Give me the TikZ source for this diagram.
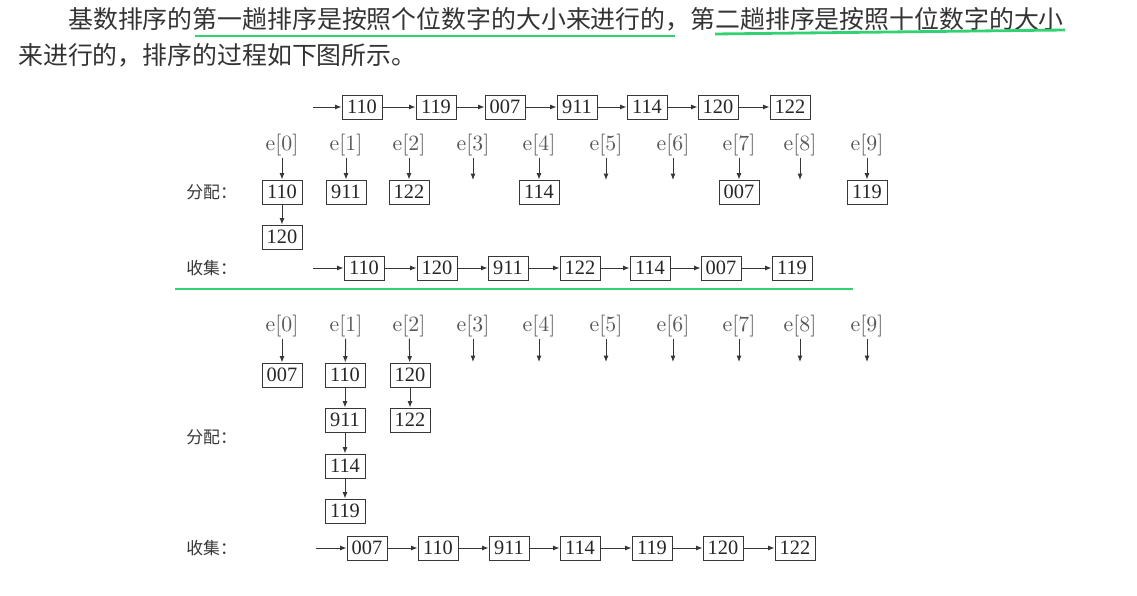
\documentclass[tikz,border=0pt]{standalone}
\usepackage{fontspec}
\newfontfamily\cjk{Noto Sans CJK SC}
\newfontfamily\numfont{Liberation Serif}
\newfontfamily\slotfont{lmroman10-regular.otf}
\usetikzlibrary{arrows.meta}
\definecolor{hlgreen}{RGB}{50,210,115}
\definecolor{inkgray}{RGB}{55,55,55}

\begin{document}
\begin{tikzpicture}[x=0.025cm,y=-0.025cm,
    keybox/.style={draw=inkgray,line width=0.7pt,minimum width=1cm,minimum height=0.6cm,inner sep=0pt,
      font=\numfont\fontsize{14.5}{15}\selectfont,text=black!85},
    slot/.style={inner sep=1pt,text=black!65,font=\slotfont\fontsize{15.5}{16}\selectfont},
    tag/.style={anchor=west,inner sep=0pt,text=inkgray,font=\cjk\fontsize{12}{12}\selectfont},
    para/.style={anchor=west,inner sep=0pt,text=black!80,font=\cjk\fontsize{17.7}{20}\selectfont},
    link/.style={-{Latex[length=4.5pt,width=3.5pt]},draw=inkgray,line width=0.7pt},
    mark line/.style={draw=hlgreen,line width=2pt}]
                    \useasboundingbox (0,0) rectangle (1137,596);

                    \node[para] (line1) at (68,19) {基数排序的第一趟排序是按照个位数字的大小来进行的，第二趟排序是按照十位数字的大小};
                    \node[para] (line2) at (18,55) {来进行的，排序的过程如下图所示。};
                    \draw[mark line] (195,36) -- (675,36);
                    \draw[mark line] (715,34) -- (1065,30);
                    \draw[mark line] (175,289) -- (853,289);

                    \foreach \i/\x in {0/282,1/346,2/409,3/473,4/539,5/606,6/673,7/739,8/800,9/867} {
                        \node[slot] (a\i) at (\x,145) {e[\i]};
                        \coordinate (ta\i) at (\x,180);
                        \node[slot] (b\i) at (\x,326) {e[\i]};
                        \coordinate (tb\i) at (\x,362);
                    }

                    \coordinate (u0) at (313,107);
                    \node[keybox] (u110) at (362,107) {110};
                    \node[keybox] (u119) at (436,107) {119};
                    \node[keybox] (u007) at (505,107) {007};
                    \node[keybox] (u911) at (577,107) {911};
                    \node[keybox] (u114) at (647,107) {114};
                    \node[keybox] (u120) at (718,107) {120};
                    \node[keybox] (u122) at (790,107) {122};
                    \draw[link] (u0) -- (u110);
                    \draw[link] (u110) -- (u119);
                    \draw[link] (u119) -- (u007);
                    \draw[link] (u007) -- (u911);
                    \draw[link] (u911) -- (u114);
                    \draw[link] (u114) -- (u120);
                    \draw[link] (u120) -- (u122);

                    \node[tag] (give1) at (186,192) {分配：};
                    \node[keybox] (one110) at (282,192) {110};
                    \node[keybox] (one120) at (282,237) {120};
                    \node[keybox] (one911) at (346,192) {911};
                    \node[keybox] (one122) at (409,192) {122};
                    \node[keybox] (one114) at (539,192) {114};
                    \node[keybox] (one007) at (739,192) {007};
                    \node[keybox] (one119) at (867,192) {119};
                    \draw[link] (a0) -- (one110);
                    \draw[link] (one110) -- (one120);
                    \draw[link] (a1) -- (one911);
                    \draw[link] (a2) -- (one122);
                    \draw[link] (a3) -- (ta3);
                    \draw[link] (a4) -- (one114);
                    \draw[link] (a5) -- (ta5);
                    \draw[link] (a6) -- (ta6);
                    \draw[link] (a7) -- (one007);
                    \draw[link] (a8) -- (ta8);
                    \draw[link] (a9) -- (one119);

                    \node[tag] (take1) at (186,268) {收集：};
                    \coordinate (m0) at (313,268);
                    \node[keybox] (m110) at (364,268) {110};
                    \node[keybox] (m120) at (437,268) {120};
                    \node[keybox] (m911) at (508,268) {911};
                    \node[keybox] (m122) at (580,268) {122};
                    \node[keybox] (m114) at (650,268) {114};
                    \node[keybox] (m007) at (721,268) {007};
                    \node[keybox] (m119) at (792,268) {119};
                    \draw[link] (m0) -- (m110);
                    \draw[link] (m110) -- (m120);
                    \draw[link] (m120) -- (m911);
                    \draw[link] (m911) -- (m122);
                    \draw[link] (m122) -- (m114);
                    \draw[link] (m114) -- (m007);
                    \draw[link] (m007) -- (m119);

                    \node[tag] (give2) at (186,437) {分配：};
                    \node[keybox] (two007) at (282,375) {007};
                    \node[keybox] (two110) at (345,375) {110};
                    \node[keybox] (two911) at (345,420) {911};
                    \node[keybox] (two114) at (345,466) {114};
                    \node[keybox] (two119) at (345,511) {119};
                    \node[keybox] (two120) at (410,375) {120};
                    \node[keybox] (two122) at (410,420) {122};
                    \draw[link] (b0) -- (two007);
                    \draw[link] (b1) -- (two110);
                    \draw[link] (two110) -- (two911);
                    \draw[link] (two911) -- (two114);
                    \draw[link] (two114) -- (two119);
                    \draw[link] (b2) -- (two120);
                    \draw[link] (two120) -- (two122);
                    \draw[link] (b3) -- (tb3);
                    \draw[link] (b4) -- (tb4);
                    \draw[link] (b5) -- (tb5);
                    \draw[link] (b6) -- (tb6);
                    \draw[link] (b7) -- (tb7);
                    \draw[link] (b8) -- (tb8);
                    \draw[link] (b9) -- (tb9);

                    \node[tag] (take2) at (186,548) {收集：};
                    \coordinate (l0) at (316,548);
                    \node[keybox] (l007) at (367,548) {007};
                    \node[keybox] (l110) at (438,548) {110};
                    \node[keybox] (l911) at (509,548) {911};
                    \node[keybox] (l114) at (580,548) {114};
                    \node[keybox] (l119) at (652,548) {119};
                    \node[keybox] (l120) at (723,548) {120};
                    \node[keybox] (l122) at (795,548) {122};
                    \draw[link] (l0) -- (l007);
                    \draw[link] (l007) -- (l110);
                    \draw[link] (l110) -- (l911);
                    \draw[link] (l911) -- (l114);
                    \draw[link] (l114) -- (l119);
                    \draw[link] (l119) -- (l120);
                    \draw[link] (l120) -- (l122);
                \end{tikzpicture}
\end{document}
